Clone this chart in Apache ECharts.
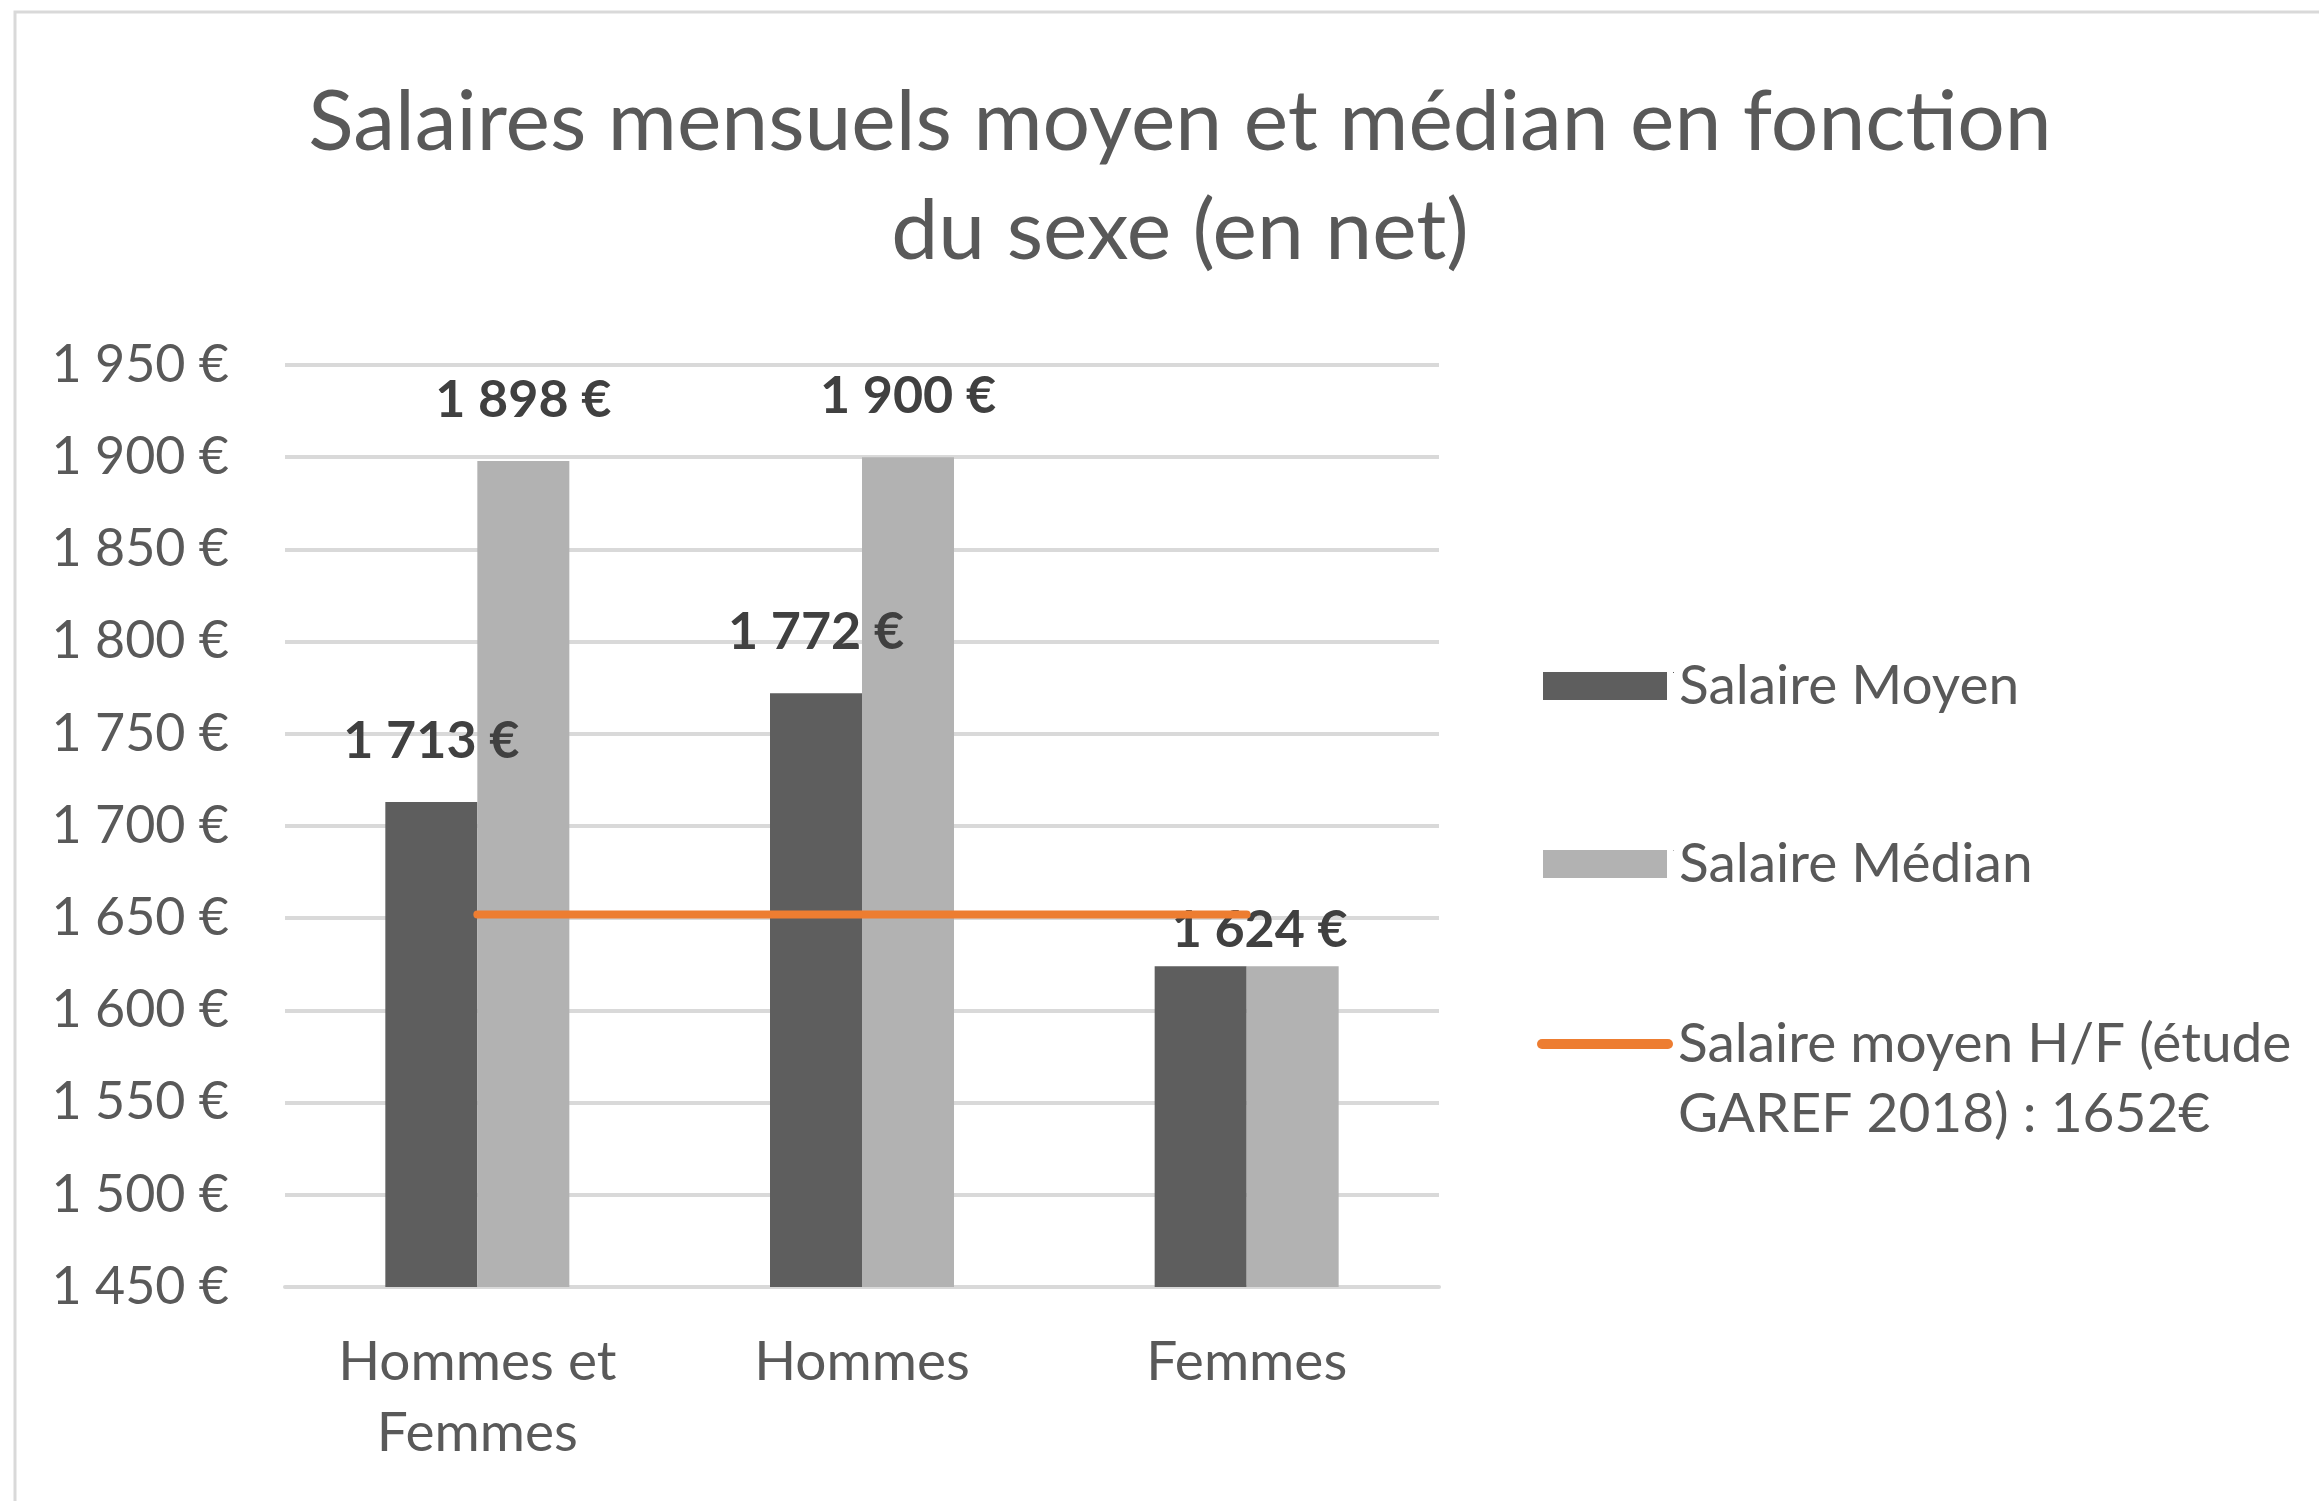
<!DOCTYPE html>
<html>
<head>
<meta charset="utf-8">
<script src="https://cdn.jsdelivr.net/npm/echarts@6/dist/echarts.min.js"></script>
<style>
  html, body { margin: 0; padding: 0; background: #fff; }
  #chart { width: 2319px; height: 1501px; }
</style>
</head>
<body>
<div id="chart"></div>
<script>
const categories = ["Hommes et\nFemmes", "Hommes", "Femmes"];
const salaireMoyen = [1713, 1772, 1624];
const salaireMedian = [1898, 1900, 1624];
const salaireGaref = [1652, 1652, 1652];
const yMin = 1450;
const yMax = 1950;
const yStep = 50;

const FONT = "Lato, 'Open Sans', sans-serif";
const TEXT_GREY = "#595959";
const ORANGE = "#ed7d31";

function euro(value) {
  return String(value).replace(/\B(?=(\d{3})+(?!\d))/g, " ") + " €";
}

const barLabel = {
  show: true,
  position: "top",
  distance: 35,
  fontFamily: FONT,
  fontSize: 52,
  fontWeight: "bold",
  color: "#404040",
  formatter: (p) => euro(p.value)
};

// la valeur Femmes n'a qu'une étiquette, décalée entre les deux barres
const moyenData = salaireMoyen.map((v, i) =>
  i === 2 ? { value: v, label: { offset: [59, 0], distance: 10 } } : v
);
const medianData = salaireMedian.map((v, i) =>
  i === 2 ? { value: v, label: { show: false } } : v
);

const legendText = {
  fontFamily: FONT,
  fontSize: 55,
  lineHeight: 70,
  color: TEXT_GREY
};

const garefName = "Salaire moyen H/F (étude GAREF 2018) : 1652€";

function legendItem(name, top, extra) {
  return Object.assign({
    data: [name],
    orient: "vertical",
    left: 1543,
    top: top,
    padding: 0,
    icon: "rect",
    itemWidth: 131,
    itemHeight: 28,
    textStyle: legendText,
    selectedMode: false
  }, extra);
}

const chart = echarts.init(document.getElementById("chart"));
chart.setOption({
  animation: false,
  backgroundColor: "#fff",
  graphic: [
    {
      type: "rect",
      silent: true,
      shape: { x: 15, y: 12, width: 2400, height: 1600 },
      style: { fill: "none", stroke: "#d9d9d9", lineWidth: 3 }
    }
  ],
  title: {
    text: "Salaires mensuels moyen et médian en fonction\ndu sexe (en net)",
    left: 1180,
    top: 68,
    padding: 0,
    textAlign: "center",
    textStyle: {
      fontFamily: FONT,
      fontSize: 84,
      fontWeight: "normal",
      lineHeight: 109,
      color: TEXT_GREY
    }
  },
  legend: [
    legendItem("Salaire Moyen", 651, {
      icon: "path://M0,0 H124 V28 H0 Z M130,0 H131 V1 H130 Z"
    }),
    legendItem("Salaire Médian", 829, {
      icon: "path://M0,0 H124 V28 H0 Z M130,0 H131 V1 H130 Z"
    }),
    legendItem(garefName, 939, {
      left: 1537,
      icon: "path://M5,0 H131 A5,5 0 0 1 131,10 H5 A5,5 0 0 1 5,0 Z",
      itemWidth: 136,
      itemHeight: 10,
      itemStyle: { color: ORANGE },
      formatter: () => "\nSalaire moyen H/F (étude\nGAREF 2018) : 1652€"
    })
  ],
  grid: {
    left: 285,
    right: 880,
    top: 365,
    bottom: 214
  },
  xAxis: {
    type: "category",
    data: categories,
    axisLine: { show: true, lineStyle: { color: "#d9d9d9", width: 4 } },
    axisTick: { show: false },
    axisLabel: {
      margin: 40,
      fontFamily: FONT,
      fontSize: 55,
      lineHeight: 71,
      color: TEXT_GREY
    }
  },
  yAxis: {
    type: "value",
    min: yMin,
    max: yMax,
    interval: yStep,
    axisLine: { show: false },
    axisTick: { show: false },
    axisLabel: {
      margin: 56,
      fontFamily: FONT,
      fontSize: 52,
      color: TEXT_GREY,
      formatter: euro
    },
    splitLine: { lineStyle: { color: "#d9d9d9", width: 4 } }
  },
  series: [
    {
      name: "Salaire Moyen",
      type: "bar",
      data: moyenData,
      barWidth: 92,
      barGap: "0%",
      itemStyle: { color: "#5e5e5e" },
      label: barLabel
    },
    {
      name: "Salaire Médian",
      type: "bar",
      data: medianData,
      barWidth: 92,
      barGap: "0%",
      itemStyle: { color: "#b2b2b2" },
      label: barLabel
    },
    {
      name: garefName,
      type: "line",
      data: salaireGaref,
      symbol: "none",
      z: 5,
      lineStyle: { color: ORANGE, width: 8, cap: "round" },
      itemStyle: { color: ORANGE }
    }
  ]
});
</script>
</body>
</html>
